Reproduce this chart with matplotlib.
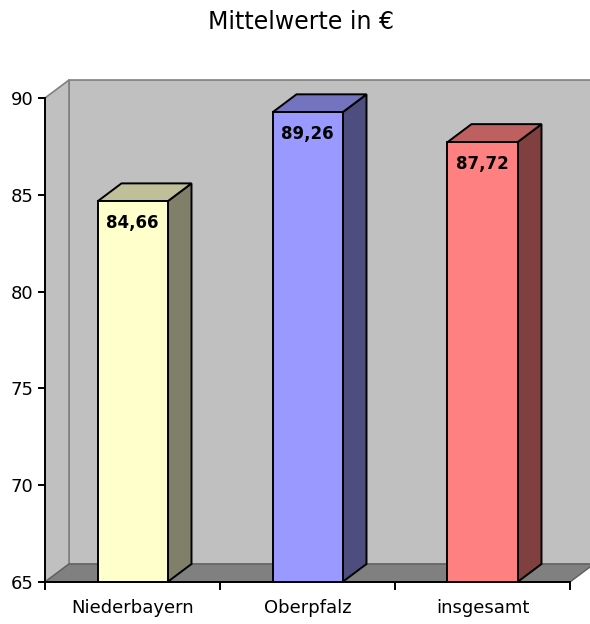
import matplotlib.pyplot as plt
from matplotlib.patches import Polygon

categories = ["Niederbayern", "Oberpfalz", "insgesamt"]
values = [84.66, 89.26, 87.72]
labels = ["84,66", "89,26", "87,72"]

front_cols = ["#ffffcc", "#9999ff", "#ff8080"]
top_cols = ["#bfbf99", "#7373bf", "#bf6060"]
side_cols = ["#80806a", "#4d4d80", "#804040"]

W, H, DPI = 590, 624, 100
x0, x1 = 45, 570          # front plane, pixels
ytop, ybot = 98, 582
YMIN, YMAX = 65, 90

fig = plt.figure(figsize=(W / DPI, H / DPI), dpi=DPI)
ax = fig.add_axes([x0 / W, 1 - ybot / H, (x1 - x0) / W, (ybot - ytop) / H])
ax.set_xlim(0, 3)
ax.set_ylim(YMIN, YMAX)

# depth of the 3D box in data units
dx = 24 / ((x1 - x0) / 3)
dy = 18 / ((ybot - ytop) / (YMAX - YMIN))

def poly(pts, fc, ec, lw, z):
    ax.add_patch(Polygon(pts, closed=True, facecolor=fc, edgecolor=ec,
                         linewidth=lw, zorder=z, clip_on=False))

# walls and floor
poly([(dx, YMIN + dy), (3 + dx + 0.2, YMIN + dy), (3 + dx + 0.2, YMAX + dy), (dx, YMAX + dy)],
     "#c0c0c0", "#808080", 1.2, 1)
poly([(0, YMIN), (dx, YMIN + dy), (dx, YMAX + dy), (0, YMAX)], "#c0c0c0", "#808080", 1.2, 1)
poly([(0, YMIN), (dx, YMIN + dy), (3 + dx, YMIN + dy), (3, YMIN)], "#808080", "#606060", 1.0, 2)

bw = 0.4
for i, v in enumerate(values):
    xl = i + 0.5 - bw / 2
    xr = xl + bw
    poly([(xr, YMIN), (xr + dx, YMIN + dy), (xr + dx, v + dy), (xr, v)], side_cols[i], "black", 1.4, 3)
    poly([(xl, v), (xr, v), (xr + dx, v + dy), (xl + dx, v + dy)], top_cols[i], "black", 1.4, 3)
    poly([(xl, YMIN), (xr, YMIN), (xr, v), (xl, v)], front_cols[i], "black", 1.4, 4)
    ax.annotate(labels[i], (i + 0.5, v), xytext=(0, -22), textcoords="offset pixels",
                ha="center", va="center", fontsize=12, fontweight="bold", zorder=5)

for s in ["top", "right"]:
    ax.spines[s].set_visible(False)
for s in ["left", "bottom"]:
    ax.spines[s].set_linewidth(1.4)
    ax.spines[s].set_zorder(6)
ax.patch.set_visible(False)

ax.set_yticks(range(65, 91, 5))
ax.tick_params(axis="y", length=5.2, width=1.4, labelsize=13, pad=3)
ax.set_xticks([0, 1, 2, 3])
ax.set_xticklabels([])
ax.set_xticks([0.5, 1.5, 2.5], minor=True)
ax.set_xticklabels(categories, minor=True, fontsize=13)
ax.tick_params(axis="x", which="major", length=6, width=1.4)
ax.tick_params(axis="x", which="minor", length=0, pad=12)

fig.text(0.51, 1 - 22 / H, "Mittelwerte in €", ha="center", va="center", fontsize=17)

fig.savefig("out.png", dpi=DPI)
